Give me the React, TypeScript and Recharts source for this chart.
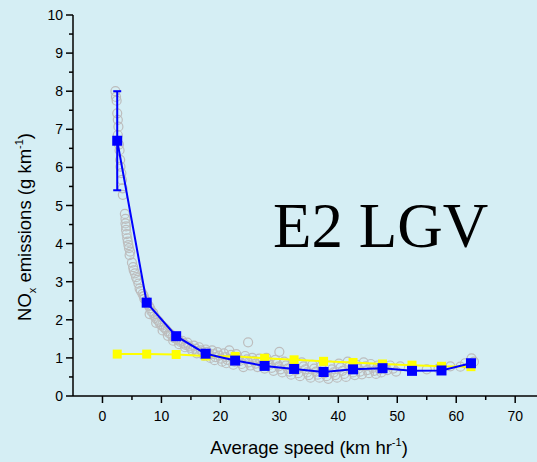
import { ScatterChart, Scatter, XAxis, YAxis, ErrorBar } from 'recharts';

const BG = '#d5eef4';
const BLUE = '#0000ff';
const YELLOW = '#ffff00';
const GREY = '#bdbdbd';
const SANS = '"Liberation Sans", Arial, sans-serif';

const W = 537;
const H = 462;
const PLOT_LEFT = 73;
const PLOT_TOP = 15;
const PLOT_BOTTOM = 396;

document.body.style.margin = '0';
document.body.style.background = BG;

// bin centres (km/h) and the two series drawn through them
const SPEED_BINS = [2.5, 7.5, 12.5, 17.5, 22.5, 27.5, 32.5, 37.5, 42.5, 47.5, 52.5, 57.5, 62.5];
const MEAN_NOX = [6.7, 2.45, 1.57, 1.11, 0.93, 0.79, 0.71, 0.63, 0.7, 0.73, 0.66, 0.67, 0.86];
const MEAN_ERR = [1.3, 0.08, 0, 0, 0, 0, 0, 0, 0, 0, 0, 0, 0];
const MODEL_NOX = [1.1, 1.1, 1.09, 1.05, 1.04, 0.99, 0.95, 0.91, 0.88, 0.84, 0.81, 0.78, 0.77];

// individual observations [speed, NOx]
const OBS_POINTS: [number, number][] = [
  [2.2, 8.0], [2.3, 7.85], [2.4, 7.75], [2.5, 7.42], [2.6, 7.25], [2.7, 7.07], [2.6, 6.85],
  [2.8, 6.6], [2.9, 6.45], [3.0, 6.2], [3.05, 6.02], [3.2, 5.85], [3.3, 5.67], [3.4, 5.45],
  [3.45, 5.28], [3.8, 4.78], [3.9, 4.65], [3.9, 4.53], [4.0, 4.45], [4.0, 4.36], [4.1, 4.25],
  [4.2, 4.14], [4.3, 4.05], [4.4, 3.96], [4.5, 3.88], [4.7, 3.79], [4.6, 3.7], [5.0, 3.5],
  [5.2, 3.38], [5.3, 3.3], [5.5, 3.22], [5.7, 3.12], [5.9, 3.05], [6.1, 2.95], [6.3, 2.82],
  [6.5, 2.76], [6.8, 2.68], [7.0, 2.62], [7.1, 2.55], [7.4, 2.5], [7.6, 2.42], [7.9, 2.36],
  [8.1, 2.3], [8.3, 2.22], [8.0, 2.15], [8.6, 2.18], [8.8, 2.1], [9.0, 2.05], [9.3, 2.0],
  [9.1, 1.92], [9.6, 1.95], [9.8, 1.88], [10.1, 1.85], [10.4, 1.8], [10.2, 1.72], [10.7, 1.76],
  [11.0, 1.7], [11.3, 1.65], [11.1, 1.58], [11.6, 1.62], [11.9, 1.56], [12.2, 1.52], [12.0, 1.45],
  [12.6, 1.5], [12.9, 1.46], [13.2, 1.42], [13.0, 1.36], [13.5, 1.45], [13.8, 1.38], [14.1, 1.34],
  [14.0, 1.28], [14.4, 1.4], [14.7, 1.3], [15.0, 1.26], [15.2, 1.2], [15.5, 1.32], [15.8, 1.24],
  [16.1, 1.18], [16.0, 1.12], [16.4, 1.28], [16.7, 1.2], [17.0, 1.14], [17.2, 1.06], [17.5, 1.22],
  [17.8, 1.16], [18.1, 1.08], [18.3, 1.0], [18.6, 1.2], [18.9, 1.1], [19.2, 1.02], [19.0, 0.94],
  [19.5, 1.15], [19.8, 1.06], [20.1, 0.98], [20.3, 0.9], [20.6, 1.12], [20.9, 1.02], [21.2, 0.95],
  [21.0, 0.86], [21.5, 1.2], [21.8, 1.08], [22.1, 0.98], [22.4, 0.9], [22.2, 0.82], [22.7, 1.1],
  [23.0, 1.0], [23.3, 0.92], [23.6, 0.84], [23.9, 0.76], [24.2, 1.05], [24.5, 0.96], [24.7, 1.41],
  [24.8, 0.88], [25.1, 0.8], [25.4, 1.0], [25.7, 0.92], [26.0, 0.85], [26.3, 0.76], [26.6, 0.98],
  [26.9, 0.88], [27.2, 0.8], [27.5, 0.72], [27.8, 1.0], [28.1, 0.9], [28.4, 0.82], [28.7, 0.74],
  [29.0, 0.66], [29.3, 0.95], [29.6, 0.85], [30.0, 1.16], [29.9, 0.78], [30.2, 0.7], [30.5, 0.62],
  [30.8, 0.9], [31.1, 0.8], [31.4, 0.72], [31.7, 0.64], [32.0, 0.56], [32.3, 0.85], [32.6, 0.75],
  [32.9, 0.68], [33.2, 0.6], [33.5, 0.52], [33.8, 0.88], [34.1, 0.78], [34.4, 0.7], [34.7, 0.62],
  [35.0, 0.55], [35.3, 0.48], [35.6, 0.82], [35.9, 0.72], [36.2, 0.64], [36.5, 0.56], [36.8, 0.48],
  [37.1, 0.78], [37.4, 0.68], [37.7, 0.6], [38.0, 0.52], [38.3, 0.45], [38.6, 0.8], [38.9, 0.7],
  [39.2, 0.62], [39.5, 0.55], [39.8, 0.48], [40.1, 0.85], [40.4, 0.75], [40.7, 0.66], [41.0, 0.58],
  [41.3, 0.5], [41.6, 0.9], [41.9, 0.78], [42.2, 0.7], [42.5, 0.62], [42.8, 0.55], [43.1, 0.82],
  [43.4, 0.72], [43.7, 0.64], [44.0, 0.57], [44.3, 0.88], [44.6, 0.78], [44.9, 0.68], [45.2, 0.6],
  [45.5, 0.84], [45.8, 0.74], [46.1, 0.66], [46.4, 0.58], [46.7, 0.8], [47.0, 0.7], [47.3, 0.62],
  [47.8, 0.76], [48.3, 0.68], [48.8, 0.8], [49.3, 0.72], [49.8, 0.64], [50.5, 0.78], [55.0, 0.7],
  [57.0, 0.72], [59.0, 0.78], [60.7, 0.77], [61.5, 0.86], [62.6, 0.99], [63.0, 0.9],
];

const X_TICKS = [0, 5, 10, 15, 20, 25, 30, 35, 40, 45, 50, 55, 60, 65, 70];
const Y_TICKS = [0, 0.5, 1, 1.5, 2, 2.5, 3, 3.5, 4, 4.5, 5, 5.5, 6, 6.5, 7, 7.5, 8, 8.5, 9, 9.5, 10];

const obsData = OBS_POINTS.map(([speed, nox]) => ({ speed, nox }));
const meanData = SPEED_BINS.map((speed, i) => ({ speed, nox: MEAN_NOX[i], err: MEAN_ERR[i] }));
const modelData = SPEED_BINS.map((speed, i) => ({ speed, nox: MODEL_NOX[i] }));

function XTick({ x, payload }: any) {
  const v = payload.value;
  const major = v % 10 === 0;
  return (
    <g>
      <line x1={x} x2={x} y1={PLOT_BOTTOM} y2={PLOT_BOTTOM + (major ? 7 : 4)} stroke="#000" strokeWidth={1.5} />
      {major && (
        <text x={x} y={PLOT_BOTTOM + 25} textAnchor="middle" fontSize={14} fontFamily={SANS} fill="#000">
          {v}
        </text>
      )}
    </g>
  );
}

function YTick({ y, payload }: any) {
  const v = payload.value;
  const major = Number.isInteger(v);
  return (
    <g>
      <line x1={PLOT_LEFT} x2={PLOT_LEFT - (major ? 7 : 4)} y1={y} y2={y} stroke="#000" strokeWidth={1.5} />
      {major && (
        <text x={PLOT_LEFT - 10} y={y + 5} textAnchor="end" fontSize={14} fontFamily={SANS} fill="#000">
          {v}
        </text>
      )}
    </g>
  );
}

const ring = (props: any) => (
  <circle cx={props.cx} cy={props.cy} r={4.5} fill="none" stroke={GREY} strokeWidth={1.2} />
);

const square = (color: string, size: number) => (props: any) => (
  <rect x={props.cx - size / 2} y={props.cy - size / 2} width={size} height={size} fill={color} />
);

export default function App() {
  return (
    <div style={{ position: 'relative', width: W, height: H, background: BG, overflow: 'hidden' }}>
      <ScatterChart width={W} height={H} margin={{ top: PLOT_TOP, right: 0, bottom: 0, left: 0 }}>
        <XAxis
          type="number"
          dataKey="speed"
          domain={[-5, 73.7]}
          ticks={X_TICKS}
          interval={0}
          allowDataOverflow
          height={H - PLOT_BOTTOM}
          axisLine={{ stroke: '#000', strokeWidth: 1.5 }}
          tickLine={false}
          tick={(p: any) => <XTick {...p} />}
        />
        <YAxis
          type="number"
          dataKey="nox"
          domain={[0, 10]}
          ticks={Y_TICKS}
          interval={0}
          allowDataOverflow
          width={PLOT_LEFT}
          axisLine={{ stroke: '#000', strokeWidth: 1.5 }}
          tickLine={false}
          tick={(p: any) => <YTick {...p} />}
        />
        <Scatter data={obsData} shape={ring} isAnimationActive={false} />
        <Scatter
          data={modelData}
          shape={square(YELLOW, 9)}
          line={{ stroke: YELLOW, strokeWidth: 2 }}
          isAnimationActive={false}
        />
        <Scatter
          data={meanData}
          shape={square(BLUE, 10)}
          line={{ stroke: BLUE, strokeWidth: 2 }}
          isAnimationActive={false}
        >
          <ErrorBar
            dataKey="err"
            direction="y"
            width={4}
            stroke={BLUE}
            strokeWidth={2}
            zIndex={1000}
            isAnimationActive={false}
          />
        </Scatter>
      </ScatterChart>
      <svg width={W} height={H} style={{ position: 'absolute', left: 0, top: 0, pointerEvents: 'none' }}>
        <text x={309} y={454} textAnchor="middle" fontSize={18.5} fontFamily={SANS} fill="#000">
          Average speed (km hr
          <tspan fontSize={11} dy={-8}>-1</tspan>
          <tspan dy={8}>)</tspan>
        </text>
        <text
          x={31}
          y={227}
          transform="rotate(-90 31 227)"
          textAnchor="middle"
          fontSize={18.5}
          fontFamily={SANS}
          fill="#000"
        >
          NO
          <tspan fontSize={11} dy={5}>x</tspan>
          <tspan dy={-5}> emissions (g km</tspan>
          <tspan fontSize={11} dy={-8}>-1</tspan>
          <tspan dy={8}>)</tspan>
        </text>
        <text x={273} y={247} fontSize={63} fontFamily='"Liberation Serif", "Times New Roman", serif' fill="#000">
          E2 LGV
        </text>
      </svg>
    </div>
  );
}
